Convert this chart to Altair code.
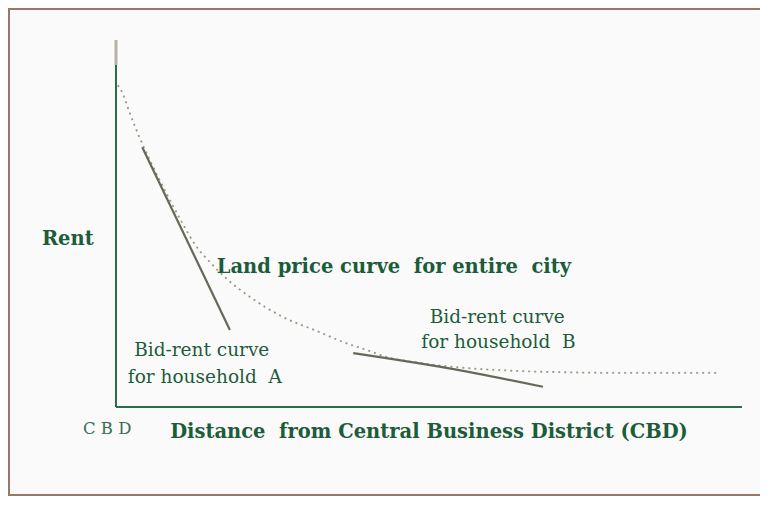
import altair as alt
import pandas as pd

W, H = 752, 488

# Land price curve for the entire city (distance from CBD, rent)
land_x = [0.3, 1.1, 2.2, 3.8, 5.4, 7.8, 10.5, 12.9, 15.0, 17.7, 21.4, 26.7, 32.1,
          36.3, 40.1, 43.3, 48.6, 56.1, 64.5, 70.9, 80.5, 90.1, 96.5]
land_y = [87.7, 85.3, 80.1, 73.3, 67.3, 59.1, 50.4, 43.6, 39.5, 34.9, 30.0, 24.5, 20.7,
          17.7, 15.5, 13.6, 12.0, 10.6, 9.8, 9.5, 9.3, 9.3, 9.3]

# Bid-rent curves
bidA_x = [4.2, 18.2]
bidA_y = [70.8, 21.0]
bidB_x = [37.9, 53.0, 68.2]
bidB_y = [14.7, 10.6, 5.5]

# Axes extents
axis_len = [0, 100]
axis_green_top = 93.2

NB = "\u00a0"
# Annotations
bold_labels = ["Rent", "Land price curve" + NB + " for entire" + NB + " city",
               "Distance" + NB + " from Central Business District (CBD)"]
bold_x = [-7.7, 16.1, 50.0]
bold_y = [45.8, 38.2, -6.8]
bold_align = ["center", "left", "center"]

note_labels = ["Bid-rent curve", "for household" + NB + " A",
               "Bid-rent curve", "for household" + NB + " B"]
note_x = [13.7, 14.2, 60.9, 61.1]
note_y = [15.5, 8.2, 24.5, 17.7]

cbd_label = ["C B D"]
cbd_x = [-1.4]
cbd_y = [-6.0]

xs = alt.Scale(domain=[-17.25, 102.88], nice=False, zero=False)
ys = alt.Scale(domain=[-24.25, 108.72], nice=False, zero=False)

GREEN = "#1d5c3a"

def X(f="x"):
    return alt.X(f + ":Q", scale=xs, axis=None)

def Y(f="y"):
    return alt.Y(f + ":Q", scale=ys, axis=None)

land_df = pd.DataFrame({"x": land_x, "y": land_y})
a_df = pd.DataFrame({"x": bidA_x, "y": bidA_y})
b_df = pd.DataFrame({"x": bidB_x, "y": bidB_y})

yaxis_green = pd.DataFrame({"x": [0], "y": [0], "y2": [axis_green_top]})
yaxis_gray = pd.DataFrame({"x": [0], "y": [axis_green_top], "y2": [axis_len[1]]})
xaxis_df = pd.DataFrame({"x": [axis_len[0]], "x2": [axis_len[1]], "y": [0]})

frame_col = "#9a7668"
frame = alt.Chart(pd.DataFrame({"a": [0]})).mark_rect(
    fill="transparent", stroke=frame_col, strokeWidth=2).encode(
    x=alt.value(1), x2=alt.value(W + 30), y=alt.value(1), y2=alt.value(H - 1))

y_green = alt.Chart(yaxis_green).mark_rule(color="#2a6b4b", strokeWidth=2).encode(
    x=X(), y=Y(), y2="y2:Q")
y_gray = alt.Chart(yaxis_gray).mark_rule(color="#b9b2a4", strokeWidth=3).encode(
    x=X(), y=Y(), y2="y2:Q")
x_axis = alt.Chart(xaxis_df).mark_rule(color="#2a6b4b", strokeWidth=2).encode(
    x=X(), x2="x2:Q", y=Y())

land = alt.Chart(land_df).mark_line(color="#9e9684", strokeWidth=1.8, strokeDash=[2, 4],
                                     interpolate="monotone").encode(x=X(), y=Y(), order="x:Q")
bidA = alt.Chart(a_df).mark_line(color="#66685a", strokeWidth=2.2).encode(x=X(), y=Y())
bidB = alt.Chart(b_df).mark_line(color="#66685a", strokeWidth=2.2,
                                  interpolate="monotone").encode(x=X(), y=Y())

bold_df = pd.DataFrame({"t": bold_labels, "x": bold_x, "y": bold_y, "al": bold_align})
bold_center = alt.Chart(bold_df[bold_df.al == "center"]).mark_text(
    font="DejaVu Serif", fontWeight="bold", fontSize=19.5, color=GREEN,
    align="center", baseline="middle").encode(x=X(), y=Y(), text="t:N")
bold_left = alt.Chart(bold_df[bold_df.al == "left"]).mark_text(
    font="DejaVu Serif", fontWeight="bold", fontSize=19.5, color=GREEN,
    align="left", baseline="middle").encode(x=X(), y=Y(), text="t:N")

notes = alt.Chart(pd.DataFrame({"t": note_labels, "x": note_x, "y": note_y})).mark_text(
    font="DejaVu Serif", fontSize=18.5, color=GREEN, align="center", baseline="middle"
).encode(x=X(), y=Y(), text="t:N")

cbd = alt.Chart(pd.DataFrame({"t": cbd_label, "x": cbd_x, "y": cbd_y})).mark_text(
    font="DejaVu Serif", fontSize=16.5, color="#3d6b55", align="center", baseline="middle"
).encode(x=X(), y=Y(), text="t:N")

chart = alt.layer(
    frame,
    land, bidA, bidB,
    y_gray, y_green, x_axis,
    bold_center, bold_left, notes, cbd
).properties(width=W, height=H, padding=0, autosize="none", background="#fafafa"
).configure_view(stroke=None)

chart.save("out.html", embed_options={"renderer": "svg", "actions": False})
